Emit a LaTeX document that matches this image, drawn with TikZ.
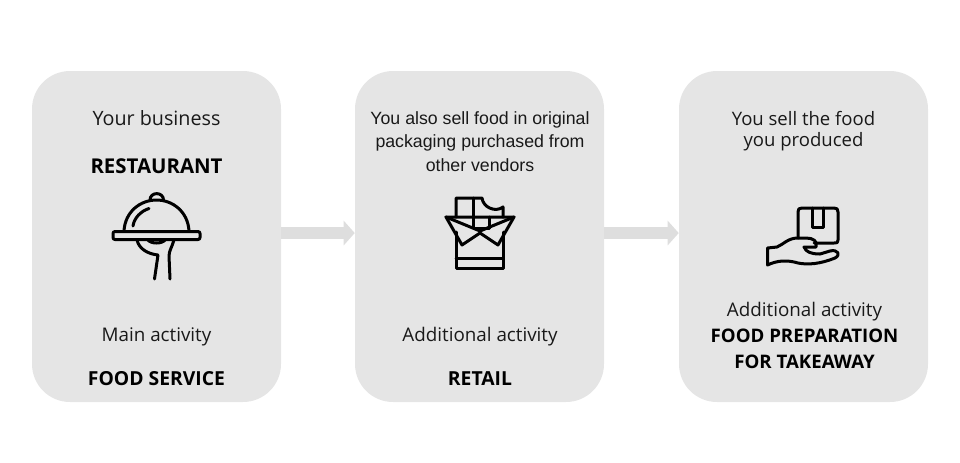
\documentclass[tikz,border=0pt]{standalone}
\usepackage{fontspec}
\setmainfont{Open Sans}
\newfontfamily\arialfont{Liberation Sans}
\usetikzlibrary{arrows.meta}
\definecolor{panelgray}{HTML}{E5E5E5}
\definecolor{arrowgray}{HTML}{DEDEDE}
\tikzstyle{panel} = [fill=panelgray, rounded corners=28.5pt, minimum width=186.75pt, minimum height=248.25pt, inner sep=0pt]
\tikzstyle{txt} = [anchor=base, inner sep=0pt, text=black!90, font=\fontsize{14.1pt}{17pt}\selectfont]
\tikzstyle{bigtxt} = [txt, font=\fontsize{14.8pt}{17pt}\selectfont]
\tikzstyle{smalltxt} = [txt, font=\fontsize{13.9pt}{17pt}\selectfont]
\tikzstyle{side} = [anchor=base, inner sep=0pt, text=black!90, font=\arialfont\fontsize{13.3pt}{16pt}\selectfont]
\tikzstyle{head} = [anchor=base, inner sep=0pt, text=black, font=\bfseries\fontsize{14.5pt}{17pt}\selectfont]
\tikzstyle{bighead} = [head, font=\bfseries\fontsize{15.3pt}{17pt}\selectfont]
\tikzstyle{smallhead} = [head, font=\bfseries\fontsize{14pt}{17pt}\selectfont]
\tikzstyle{flow} = [arrowgray, line width=9pt, -{Triangle[length=8.25pt, width=18pt]}]
\tikzstyle{icon} = [black, line width=2.25pt, line join=round, line cap=round]

\begin{document}
\begin{tikzpicture}[x=0.75pt, y=-0.75pt]
	\useasboundingbox (0,0) rectangle (960,462);
	% panels
	\node[panel] (restaurant) at (156.5,236.5) {};
	\node[panel] (retail) at (479.5,236.5) {};
	\node[panel] (takeaway) at (803.5,236.5) {};
	\draw[flow] ([yshift=2.6pt]restaurant.east) -- ([yshift=2.6pt]retail.west);
	\draw[flow] ([yshift=2.6pt]retail.east) -- ([yshift=2.6pt]takeaway.west);
	% first panel
	\node[bigtxt] (business) at (156.5,125.5) {Your business};
	\node[bighead] (restname) at (156.5,173) {RESTAURANT};
	\node[txt] (mainact) at (156.5,341) {Main activity};
	\node[head] (foodservice) at (156.5,385) {FOOD SERVICE};
	% second panel
	\node[side] (alsoa) at (480,124) {You also sell food in original};
	\node[side] (alsob) at (480,147) {packaging purchased from};
	\node[side] (alsoc) at (480,171) {other vendors};
	\node[txt] (addacta) at (480,341) {Additional activity};
	\node[head] (retailname) at (480,385) {RETAIL};
	% third panel
	\node[smalltxt] (sella) at (803.5,125) {You sell the food};
	\node[smalltxt] (sellb) at (803.5,146.5) {you produced};
	\node[txt] (addactb) at (804.5,316.5) {Additional activity};
	\node[smallhead] (prepa) at (804.5,342) {FOOD PREPARATION};
	\node[smallhead] (prepb) at (804.5,368) {FOR TAKEAWAY};
	% cloche
	\draw[icon, rounded corners=1.5pt] (113,231.5) rectangle (200,239.5);
	\draw[icon] (124,231) .. controls (125,212) and (140,200) .. (156.5,200) .. controls (173,200) and (188,212) .. (189,231);
	\draw[icon] (150,200) .. controls (150,191.5) and (163.5,191.5) .. (163.5,200);
	\draw[icon] (133,226) .. controls (134,218) and (141,211) .. (149,208.5);
	\draw[icon] (137,240) .. controls (139,249) and (148,254) .. (158,255) -- (154.5,279);
	\draw[icon] (174,240) .. controls (172,247) and (169,251) .. (169,256) -- (170,279);
	\draw[icon] (148,240) .. controls (151,244) and (162,244) .. (165,240);
	% chocolate
	\draw[icon] (456,217) -- (456,198) -- (482,198) .. controls (483,207) and (495,213) .. (503,207) -- (503,217);
	\draw[icon] (473,198) -- (473,228) -- (489,228) -- (489,217);
	\draw[icon] (446,217) -- (514,217) -- (498,245) -- (480,233) -- (462,245) -- cycle;
	\draw[icon] (446,217) -- (480,231) -- (514,217);
	\draw[icon] (456,232) -- (456,268) -- (503,268) -- (503,232);
	\draw[icon] (456,258) -- (503,258);
	% parcel
	\draw[icon] (798,238) -- (798,212) .. controls (798,209) and (799,208) .. (802,208) -- (834,208) .. controls (837,208) and (838,209) .. (838,212) -- (838,240) .. controls (838,243) and (837,243) .. (834,243) -- (814,243);
	\draw[icon] (812,208) -- (812,227) -- (823,227) -- (823,208);
	\draw[icon] (767.5,248) -- (777,247) .. controls (784,244) and (788,238) .. (798,238) -- (806,238) .. controls (813,238) and (818,241) .. (816,247) -- (804,247) .. controls (806,252) and (811,254) .. (820,254) -- (830,251) .. controls (838,249) and (841,255) .. (835,258) .. controls (820,264) and (808,265) .. (798,263) .. controls (788,260) and (778,260) .. (767.5,265) -- cycle;
\end{tikzpicture}
\end{document}
